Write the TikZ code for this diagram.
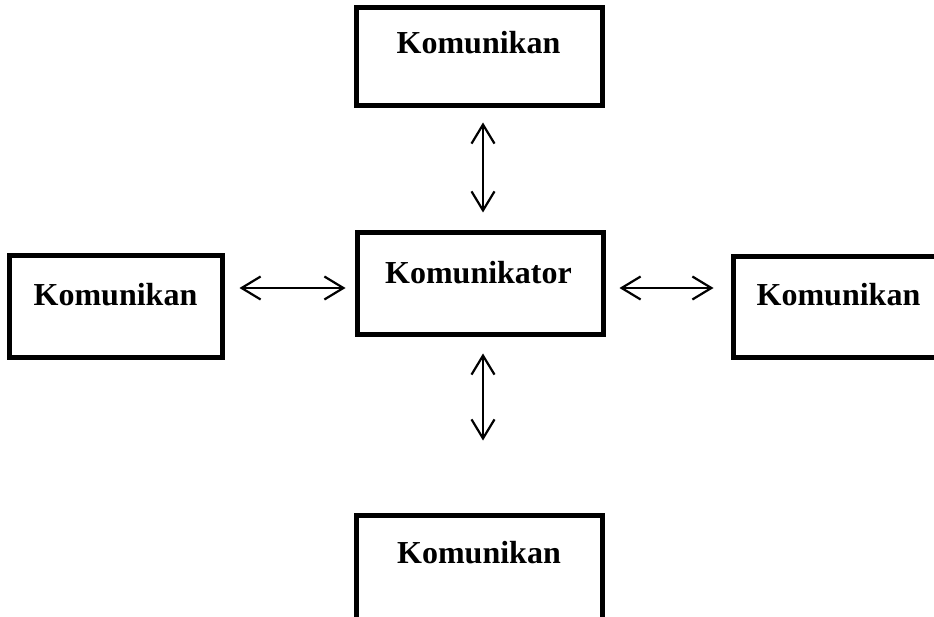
\documentclass[tikz,border=0pt]{standalone}
\usepackage{fontspec}
\setmainfont{Liberation Serif}
\usetikzlibrary{arrows.meta}
\begin{document}
\begin{tikzpicture}[x=1pt,y=-1pt,
  boxst/.style={draw=black, line width=5pt, rectangle, inner sep=0pt, fill=none},
  lbl/.style={inner sep=0pt, font=\fontsize{32}{38}\selectfont\bfseries},
  arr/.style={line width=2.2pt, {Straight Barb[length=19pt,width=23pt]}-{Straight Barb[length=19pt,width=23pt]}}]
\useasboundingbox (0,0) rectangle (934,617);
\fill[white] (0,0) rectangle (934,617);
% boxes
\node[boxst, minimum width=246pt, minimum height=98pt] (top) at (479,57) {};
\node[boxst, minimum width=246pt, minimum height=102pt] (ctr) at (480,284) {};
\node[boxst, minimum width=213pt, minimum height=102pt] (lft) at (115.5,307) {};
\node[boxst, minimum width=215pt, minimum height=101pt] (rgt) at (840.5,307.5) {};
\node[boxst, minimum width=246pt, minimum height=107pt] (bot) at (479,568.5) {};
% labels
\node[lbl] (tlab) at (478.5,43) {Komunikan};
\node[lbl] (clab) at (478.5,273) {Komunikator};
\node[lbl] (llab) at (115.5,295) {Komunikan};
\node[lbl] (rlab) at (838.5,295) {Komunikan};
\node[lbl] (blab) at (479,553) {Komunikan};
% arrows
\draw[arr, shorten <=14pt, shorten >=18pt] ([xshift=4pt]top.south) -- ([xshift=3pt]ctr.north);
\draw[arr, shorten <=16pt, shorten >=72pt] ([xshift=3pt]ctr.south) -- ([xshift=4pt]bot.north);
\draw[arr, shorten <=15pt, shorten >=9pt] ([yshift=19pt]lft.east) -- ([yshift=-4pt]ctr.west);
\draw[arr, shorten <=14pt, shorten >=17pt] ([yshift=-4pt]ctr.east) -- ([yshift=19.5pt]rgt.west);
\end{tikzpicture}
\end{document}
